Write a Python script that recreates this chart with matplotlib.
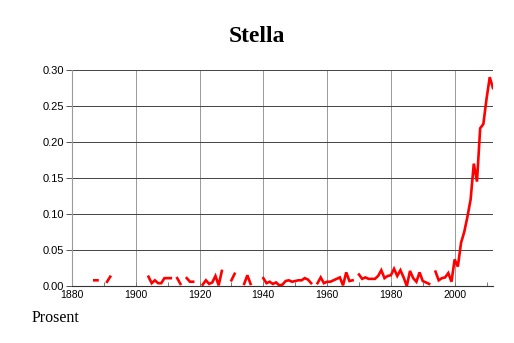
import numpy as np
import matplotlib
matplotlib.use("Agg")
import matplotlib.pyplot as plt
from matplotlib.ticker import MultipleLocator

# share of the name per year, None = no data that year
years = list(range(1887, 2013))
share = [
    0.008, 0.008, None, None, 0.006, 0.013,                              # 1887-1892
    None, None, None, None, None, None, None, None, None, None, None,    # 1893-1903
    0.013, 0.004, 0.008, 0.004, 0.004, 0.011, 0.011, 0.011,              # 1904-1911
    None, 0.011, 0.003, None, 0.011, 0.006, 0.006, None, None,           # 1912-1920
    0.002, 0.008, 0.003, 0.005, 0.014, 0.001, 0.021,                     # 1921-1927
    None, None, 0.008, 0.017, None, None, 0.003, 0.015, 0.003,           # 1928-1936
    None, None, None,                                                    # 1937-1939
    0.011, 0.004, 0.006, 0.003, 0.005, 0.001, 0.002, 0.007, 0.008,       # 1940-1948
    0.006, 0.007, 0.008, 0.008, 0.011, 0.009, 0.004, None,               # 1949-1956
    0.004, 0.012, 0.004, 0.006, 0.006, 0.008, 0.010, 0.012, 0.001,       # 1957-1965
    0.019, 0.007, 0.008, None,                                           # 1966-1969
    0.016, 0.010, 0.012, 0.010, 0.010, 0.010, 0.014, 0.022, 0.011,       # 1970-1978
    0.014, 0.015, 0.024, 0.014, 0.022, 0.012, 0.000, 0.021, 0.011,       # 1979-1987
    0.006, 0.019, 0.007, 0.005, 0.003, None,                             # 1988-1993
    0.020, 0.008, 0.011, 0.012, 0.018, 0.006, 0.037, 0.027, 0.060,       # 1994-2002
    0.075, 0.096, 0.120, 0.170, 0.145, 0.219, 0.225, 0.260, 0.290,       # 2003-2011
    0.275,                                                               # 2012
]
y_ticks = [0.00, 0.05, 0.10, 0.15, 0.20, 0.25, 0.30]
x_ticks = [1880, 1900, 1920, 1940, 1960, 1980, 2000]

vals = np.array([np.nan if v is None else v for v in share], dtype=float)

fig = plt.figure(figsize=(5.14, 3.43), dpi=100)
ax = fig.add_axes([0.140, 0.166, 0.819, 0.630])

ax.plot(years, vals, color="red", linewidth=1.9, solid_joinstyle="miter")

ax.set_xlim(1880, 2012)
ax.set_ylim(0, 0.30)
ax.set_yticks(y_ticks)
ax.set_yticklabels(["%.2f" % t for t in y_ticks])
ax.set_xticks(x_ticks)
ax.xaxis.set_minor_locator(MultipleLocator(10))

# grid: dark horizontal lines, lighter vertical ones
ax.grid(axis="y", color="#444444", linewidth=0.7)
ax.grid(axis="x", color="#999999", linewidth=0.7)
ax.set_axisbelow(True)

for side in ["top", "right"]:
    ax.spines[side].set_visible(False)
ax.spines["left"].set_color("#999999")
ax.spines["left"].set_linewidth(0.8)
ax.spines["bottom"].set_color("#333333")
ax.spines["bottom"].set_linewidth(0.8)

ax.tick_params(axis="y", direction="out", length=4, width=0.7, color="#555555",
               labelsize=8, pad=2)
ax.tick_params(axis="x", which="major", direction="in", length=3, width=0.7,
               color="#777777", labelsize=7.5, pad=3)
ax.tick_params(axis="x", which="minor", direction="in", length=3, width=0.7,
               color="#777777")
for lbl in ax.get_xticklabels() + ax.get_yticklabels():
    lbl.set_family(["Liberation Sans", "DejaVu Sans"])

fig.text(0.50, 0.895, "Stella", ha="center", va="center", fontsize=17,
         fontweight="bold", family=["Liberation Serif", "DejaVu Serif"])
fig.text(0.062, 0.073, "Prosent", ha="left", va="center", fontsize=11.5,
         family=["Liberation Serif", "DejaVu Serif"])

fig.savefig("out.png", dpi=100)
